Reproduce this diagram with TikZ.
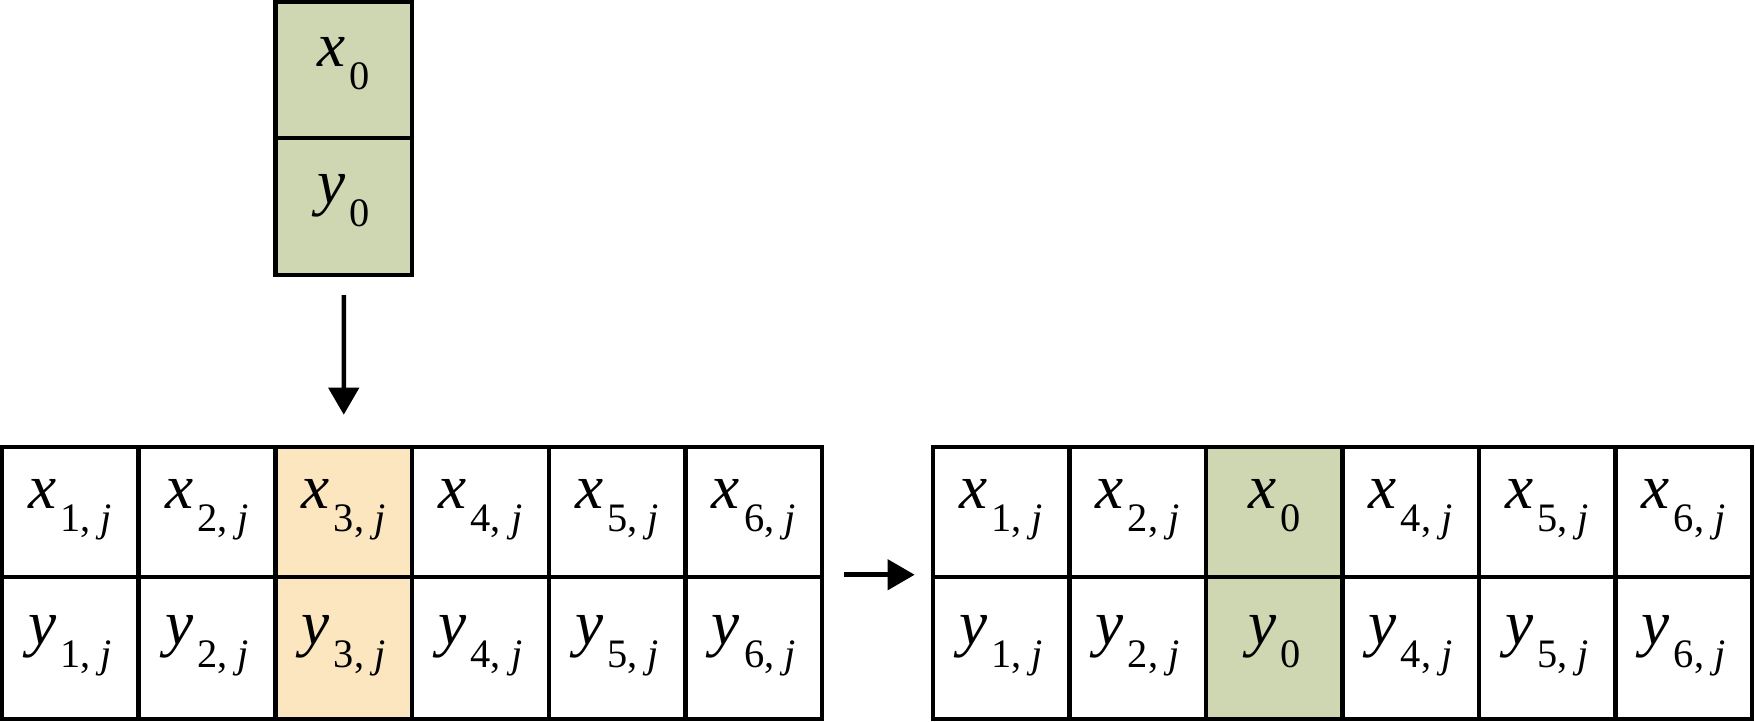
\documentclass[tikz,border=0pt]{standalone}
\usepackage{fontspec}
\setmainfont{Liberation Serif}
\usetikzlibrary{arrows.meta}
\definecolor{sage}{RGB}{207,214,178}
\definecolor{peach}{RGB}{251,230,192}
\newcommand{\ent}[2]{\textit{#1}\hspace{0.4mm}\raisebox{-2.3mm}{\fontsize{11.5}{12}\selectfont #2}}
\begin{document}
\begin{tikzpicture}[x=0.1mm, y=-0.1mm, >={Triangle[length=2.7mm,width=3mm]},
    cell/.style={draw, line width=0.45mm, inner sep=0pt, minimum width=13.67mm,
        text height=2.5mm, text depth=3.1mm, font=\fontsize{18}{21}\selectfont},
    toprow/.style={cell, minimum height=13mm},
    botrow/.style={cell, minimum height=14.2mm}]
    \useasboundingbox (0,0) rectangle (1755,722);
    % the new pair
    \node[cell, fill=sage, minimum height=13.6mm] (nx) at (343.75,70) {\ent{x}{0}};
    \node[cell, fill=sage, minimum height=13.7mm] (ny) at (343.75,206.5) {\ent{y}{0}};
    % left table
    \foreach \i/\c in {1/white,2/white,3/peach,4/white,5/white,6/white}{
        \node[toprow, fill=\c] (lx\i) at ({2+136.7*(\i-0.5)},512) {\ent{x}{\i, \textit{j}}};
        \node[botrow, fill=\c] (ly\i) at ({2+136.7*(\i-0.5)},648) {\ent{y}{\i, \textit{j}}};
    }
    % right table
    \foreach \i in {1,2,4,5,6}{
        \node[toprow] (rx\i) at ({933+136.5*(\i-0.5)},512) {\ent{x}{\i, \textit{j}}};
        \node[botrow] (ry\i) at ({933+136.5*(\i-0.5)},648) {\ent{y}{\i, \textit{j}}};
    }
    \node[toprow, fill=sage] (rx3) at ({933+136.5*2.5},512) {\ent{x}{0}};
    \node[botrow, fill=sage] (ry3) at ({933+136.5*2.5},648) {\ent{y}{0}};
    \draw[->, line width=0.45mm] ([yshift=-1.8mm]ny.south) -- ([yshift=3mm]lx3.north);
    \draw[->, line width=0.45mm] ([xshift=2mm]ly6.north east) -- ([xshift=-1.6mm]ry1.north west);
\end{tikzpicture}
\end{document}
